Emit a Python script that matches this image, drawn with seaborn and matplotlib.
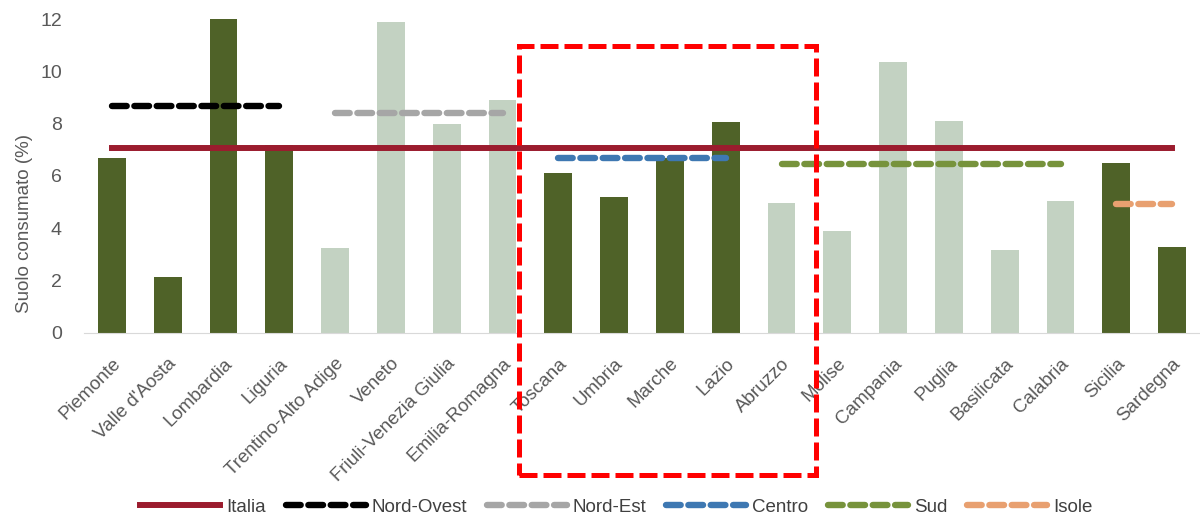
import pandas as pd
import seaborn as sns
import matplotlib.pyplot as plt
from matplotlib.patches import Rectangle

# regions and consumed soil (%)
regioni = ['Piemonte', "Valle d'Aosta", 'Lombardia', 'Liguria', 'Trentino-Alto Adige',
           'Veneto', 'Friuli-Venezia Giulia', 'Emilia-Romagna', 'Toscana', 'Umbria',
           'Marche', 'Lazio', 'Abruzzo', 'Molise', 'Campania', 'Puglia', 'Basilicata',
           'Calabria', 'Sicilia', 'Sardegna']
suolo = [6.7, 2.15, 12.0, 7.2, 3.25, 11.9, 8.0, 8.9, 6.1, 5.2,
         6.7, 8.05, 4.95, 3.9, 10.35, 8.1, 3.15, 5.05, 6.5, 3.3]
ripartizione = ['Nord-Ovest'] * 4 + ['Nord-Est'] * 4 + ['Centro'] * 4 + ['Sud'] * 6 + ['Isole'] * 2

# averages
aree = ['Italia', 'Nord-Ovest', 'Nord-Est', 'Centro', 'Sud', 'Isole']
medie = [7.08, 8.67, 8.4, 6.7, 6.45, 4.93]
colori_linee = ['#9B1C2E', '#000000', '#A6A6A6', '#3E78B2', '#77933C', '#E8A070']

scuro = '#4F6228'
chiaro = '#C3D2C2'
colore_area = {'Nord-Ovest': scuro, 'Nord-Est': chiaro, 'Centro': scuro, 'Sud': chiaro, 'Isole': scuro}

df = pd.DataFrame({'regione': regioni, 'suolo': suolo, 'area': ripartizione})

plt.rcParams['font.family'] = ['Liberation Sans', 'DejaVu Sans']
fig = plt.figure(figsize=(12, 5.16), dpi=100)
ax = fig.add_axes([0.07, 0.355, 0.93, 0.608])

sns.barplot(data=df, x='regione', y='suolo', hue='regione',
            palette=[colore_area[a] for a in ripartizione],
            width=0.5, legend=False, ax=ax, saturation=1)

# average lines over each group of bars
for area, val, col in zip(aree, medie, colori_linee):
    if area == 'Italia':
        idx = list(range(len(regioni)))
        ax.plot([idx[0], idx[-1]], [val, val], color=col, lw=4.3,
                solid_capstyle='projecting', label=area, zorder=3)
    else:
        idx = [i for i, a in enumerate(ripartizione) if a == area]
        ax.plot([idx[0], idx[-1]], [val, val], color=col, lw=4.6,
                dashes=(2.3, 1.2), dash_capstyle='round', label=area, zorder=4)

ax.set_ylim(0, 12)
ax.set_xlim(-0.5, len(regioni) - 0.5)
ax.set_yticks(range(0, 13, 2))
ax.set_xlabel('')
ax.set_ylabel('Suolo consumato (%)', fontsize=13.5, color='#595959')
ax.yaxis.set_label_coords(-0.046, 0.35)
ax.tick_params(axis='both', length=0, colors='#595959')
ax.tick_params(axis='y', labelsize=14, pad=16)
ax.tick_params(axis='x', labelsize=13.5, pad=16)
plt.setp(ax.get_xticklabels(), rotation=45, ha='right', rotation_mode='anchor')
for s in ['top', 'right', 'left']:
    ax.spines[s].set_visible(False)
ax.spines['bottom'].set_color('#D9D9D9')

ax.legend(loc='center', bbox_to_anchor=(0.477, -0.556), ncol=6, frameon=False,
          fontsize=13.5, handlelength=4.27, columnspacing=1.07, handletextpad=0.3,
          labelcolor='#404040')

# highlight box
fig.patches.append(Rectangle((0.4325, 0.0795), 0.2475, 0.8315, transform=fig.transFigure,
                             fill=False, edgecolor='#FF0000', lw=3.6, ls=(0, (3.6, 1.2)),
                             zorder=10))

fig.savefig('out.png', dpi=100)
